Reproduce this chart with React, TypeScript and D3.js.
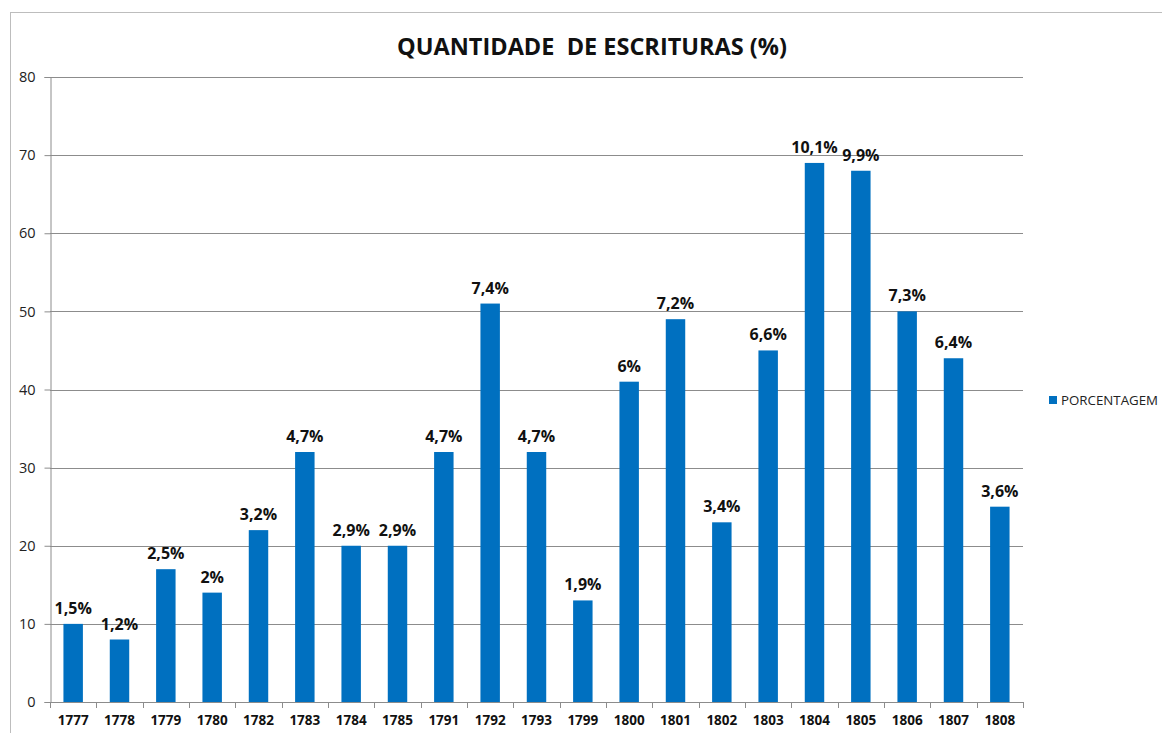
import { useEffect, useRef } from "react"
import * as d3 from "d3"

const years = ["1777", "1778", "1779", "1780", "1782", "1783", "1784", "1785", "1791", "1792", "1793", "1799", "1800", "1801", "1802", "1803", "1804", "1805", "1806", "1807", "1808"]
const values = [10, 8, 17, 14, 22, 32, 20, 20, 32, 51, 32, 13, 41, 49, 23, 45, 69, 68, 50, 44, 25]
const labels = ["1,5%", "1,2%", "2,5%", "2%", "3,2%", "4,7%", "2,9%", "2,9%", "4,7%", "7,4%", "4,7%", "1,9%", "6%", "7,2%", "3,4%", "6,6%", "10,1%", "9,9%", "7,3%", "6,4%", "3,6%"]
const yTicks = [0, 10, 20, 30, 40, 50, 60, 70, 80]
const seriesName = "PORCENTAGEM"

const W = 1162, H = 733
const FONT = "'Open Sans', Lato, sans-serif"

export default function App() {
  const svgRef = useRef<SVGSVGElement>(null)

  useEffect(() => {
    const svg = d3.select(svgRef.current)
    svg.selectAll("*").remove()

    const margin = { left: 50, top: 77, right: 139, bottom: 31 }
    const innerW = W - margin.left - margin.right
    const innerH = H - margin.top - margin.bottom

    // chart frame
    svg.append("rect")
      .attr("x", 10.5).attr("y", 12.5)
      .attr("width", W).attr("height", H)
      .attr("fill", "white")
      .attr("stroke", "#bdbdbd")

    svg.append("text")
      .attr("x", 592).attr("y", 55)
      .attr("text-anchor", "middle")
      .attr("font-family", FONT)
      .attr("font-weight", "bold")
      .attr("font-size", 23.5)
      .attr("fill", "#111")
      .attr("xml:space", "preserve")
      .text("QUANTIDADE  DE ESCRITURAS (%)")

    const main = svg.append("g")
      .attr("transform", `translate(${margin.left}, ${margin.top})`)

    const x = d3.scaleBand().domain(years).range([0, innerW]).paddingInner(0.58).paddingOuter(0.29)
    const xb = d3.scaleBand().domain(years).range([0, innerW])
    const y = d3.scaleLinear().domain([0, 80]).range([innerH, 0])

    // gridlines
    main.append("g").selectAll("line")
      .data(yTicks.slice(1))
      .join("line")
      .attr("x1", 0).attr("x2", innerW)
      .attr("y1", d => Math.round(y(d)) + 0.5).attr("y2", d => Math.round(y(d)) + 0.5)
      .attr("stroke", "#8c8c8c")

    const yAxis = main.append("g")
      .attr("transform", "translate(0.5,0)")
      .call(d3.axisLeft(y).tickValues(yTicks).tickSize(6).tickPadding(9).tickFormat(d3.format("d")))
    yAxis.select(".domain").attr("stroke", "#8c8c8c")
    yAxis.selectAll(".tick line").attr("stroke", "#8c8c8c")
    yAxis.selectAll("text").attr("font-family", FONT).attr("font-size", 14.5).attr("fill", "#222")

    // bars
    main.append("g").selectAll("rect")
      .data(values)
      .join("rect")
      .attr("x", (d, i) => x(years[i])!)
      .attr("width", x.bandwidth())
      .attr("y", d => y(d))
      .attr("height", d => innerH - y(d))
      .attr("fill", "#0070c0")

    main.append("g").selectAll("text")
      .data(values)
      .join("text")
      .attr("x", (d, i) => x(years[i])! + x.bandwidth() / 2)
      .attr("y", d => y(d) - 10)
      .attr("text-anchor", "middle")
      .attr("font-family", FONT)
      .attr("font-weight", "bold")
      .attr("font-size", 16)
      .attr("fill", "#111")
      .text((d, i) => labels[i])

    // x axis with boundary ticks
    const xg = main.append("g").attr("transform", `translate(0, ${innerH})`)
    xg.append("line")
      .attr("x1", 0).attr("x2", innerW)
      .attr("y1", 0.5).attr("y2", 0.5)
      .attr("stroke", "#8c8c8c")
    xg.selectAll("line.tk")
      .data(years.concat(["end"]))
      .join("line")
      .attr("class", "tk")
      .attr("x1", (d, i) => Math.round(i < years.length ? xb(d)! : innerW) + 0.5)
      .attr("x2", (d, i) => Math.round(i < years.length ? xb(d)! : innerW) + 0.5)
      .attr("y1", 0).attr("y2", 6)
      .attr("stroke", "#8c8c8c")
    xg.selectAll("text")
      .data(years)
      .join("text")
      .attr("x", d => xb(d)! + xb.bandwidth() / 2)
      .attr("y", 23)
      .attr("text-anchor", "middle")
      .attr("font-family", FONT)
      .attr("font-weight", "bold")
      .attr("font-size", 13.5)
      .attr("fill", "#111")
      .text(d => d)

    // legend
    const lg = svg.append("g").attr("transform", "translate(1049, 400)")
    lg.append("rect").attr("x", 0).attr("y", -4).attr("width", 8).attr("height", 8).attr("fill", "#0070c0")
    lg.append("text")
      .attr("x", 12).attr("y", 5)
      .attr("font-family", FONT)
      .attr("font-size", 13.3)
      .attr("fill", "#222")
      .text(seriesName)
  }, [])

  return (
    <svg ref={svgRef} width={W} height={H}
      style={{ position: "absolute", left: 0, top: 0, display: "block", background: "white" }} />
  )
}
